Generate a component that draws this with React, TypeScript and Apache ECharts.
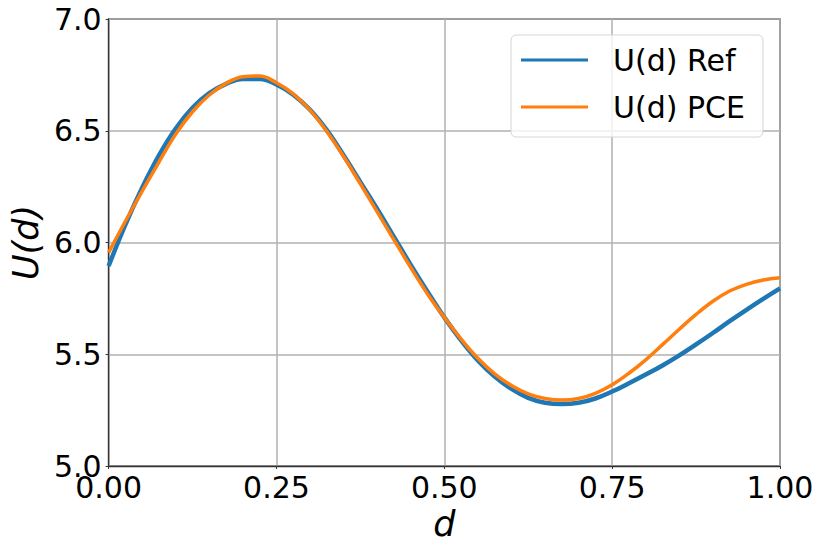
import React, { useEffect, useRef } from "react";
import * as echarts from "echarts";

const dValues = [
  0.0, 0.025, 0.05, 0.075, 0.1, 0.125, 0.15, 0.175, 0.2, 0.225, 0.25, 0.275, 0.3, 0.325,
  0.35, 0.375, 0.4, 0.425, 0.45, 0.475, 0.5, 0.525, 0.55, 0.575, 0.6, 0.625, 0.65, 0.675,
  0.7, 0.725, 0.75, 0.775, 0.8, 0.825, 0.85, 0.875, 0.9, 0.925, 0.95, 0.975, 1.0,
];

const refValues = [
  5.895, 6.08, 6.245, 6.39, 6.51, 6.603, 6.668, 6.71, 6.732, 6.731, 6.707, 6.661, 6.594, 6.503,
  6.39, 6.27, 6.15, 6.025, 5.9, 5.78, 5.665, 5.562, 5.472, 5.4, 5.345, 5.305, 5.283, 5.277,
  5.283, 5.302, 5.333, 5.37, 5.409, 5.45, 5.495, 5.544, 5.595, 5.648, 5.699, 5.748, 5.795,
];

const pceValues = [
  5.955, 6.095, 6.23, 6.36, 6.485, 6.585, 6.66, 6.712, 6.742, 6.745, 6.715, 6.665, 6.592, 6.497,
  6.385, 6.262, 6.137, 6.012, 5.888, 5.77, 5.665, 5.568, 5.482, 5.412, 5.36, 5.323, 5.302, 5.295,
  5.302, 5.325, 5.363, 5.415, 5.475, 5.543, 5.612, 5.678, 5.737, 5.783, 5.813, 5.832, 5.842,
];

const seriesNames = ["U(d) Ref", "U(d) PCE"];
const xTicks = { min: 0, max: 1, interval: 0.25 };
const yTicks = { min: 5, max: 7, interval: 0.5 };

const FONT = "DejaVu Sans";

export default function App() {
  const ref = useRef<HTMLDivElement>(null);
  useEffect(() => {
    if (!ref.current) return;
    const chart = echarts.init(ref.current, undefined, { renderer: "svg" });
    const refData = dValues.map((d, i) => [d, refValues[i]]);
    const pceData = dValues.map((d, i) => [d, pceValues[i]]);
    chart.setOption({
      animation: false,
      backgroundColor: "#ffffff",
      textStyle: { fontFamily: FONT },
      grid: {
        left: 101,
        right: 42,
        top: 19,
        bottom: 82,
        show: true,
        borderColor: "#333333",
        borderWidth: 1.3,
        backgroundColor: "transparent",
      },
      legend: {
        orient: "vertical",
        left: 511,
        top: 35,
        padding: [7, 18, 12, 10],
        itemGap: 11,
        itemWidth: 67,
        itemHeight: 3,
        borderColor: "#d6d6d6",
        borderWidth: 1,
        borderRadius: 5,
        backgroundColor: "rgba(255,255,255,0.8)",
        textStyle: {
          fontFamily: FONT,
          fontSize: 30,
          color: "#000",
          lineHeight: 36,
          padding: [0, 0, 0, 20],
        },
        data: [
          { name: seriesNames[0], icon: "rect" },
          { name: seriesNames[1], icon: "rect" },
        ],
      },
      xAxis: {
        type: "value",
        min: xTicks.min,
        max: xTicks.max,
        interval: xTicks.interval,
        name: "d",
        nameLocation: "middle",
        nameGap: 36,
        nameTextStyle: { fontFamily: FONT, fontSize: 35, fontStyle: "italic", color: "#000" },
        axisLine: { show: true, lineStyle: { color: "#333333", width: 1.3 } },
        axisTick: { show: true, length: 3, lineStyle: { color: "#333333", width: 1 } },
        axisLabel: {
          fontFamily: FONT,
          fontSize: 30,
          color: "#000",
          margin: 6,
          formatter: (v: number) => v.toFixed(2),
        },
        splitLine: { show: true, lineStyle: { color: "#b0b0b0", width: 1.5 } },
      },
      yAxis: {
        type: "value",
        min: yTicks.min,
        max: yTicks.max,
        interval: yTicks.interval,
        name: "U(d)",
        nameLocation: "middle",
        nameGap: 62,
        nameRotate: 90,
        nameTextStyle: { fontFamily: FONT, fontSize: 35, fontStyle: "italic", color: "#000" },
        axisLine: { show: true, lineStyle: { color: "#333333", width: 1.3 } },
        axisTick: { show: true, length: 3, lineStyle: { color: "#333333", width: 1 } },
        axisLabel: {
          fontFamily: FONT,
          fontSize: 30,
          color: "#000",
          margin: 7,
          formatter: (v: number) => v.toFixed(1),
        },
        splitLine: { show: true, lineStyle: { color: "#b0b0b0", width: 1.5 } },
      },
      series: [
        {
          name: seriesNames[0],
          type: "line",
          data: refData,
          smooth: 0.4,
          showSymbol: false,
          symbol: "none",
          color: "#1f77b4",
          lineStyle: { color: "#1f77b4", width: 4.5 },
          z: 2,
        },
        {
          name: seriesNames[1],
          type: "line",
          data: pceData,
          smooth: 0.4,
          showSymbol: false,
          symbol: "none",
          color: "#ff7f0e",
          lineStyle: { color: "#ff7f0e", width: 3.5 },
          z: 3,
        },
      ],
    });
    return () => chart.dispose();
  }, []);
  return (
    <div
      ref={ref}
      style={{ position: "fixed", left: 0, top: 0, width: 822, height: 548 }}
    />
  );
}
